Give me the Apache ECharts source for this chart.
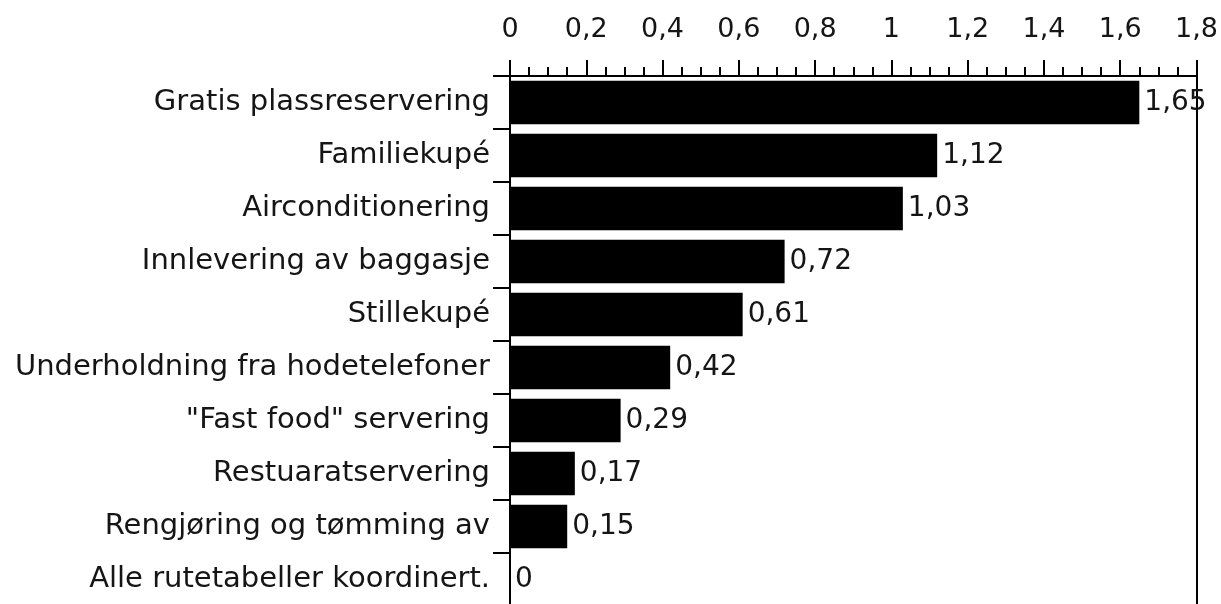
<!DOCTYPE html>
<html>
<head>
<meta charset="utf-8">
<script src="https://cdn.jsdelivr.net/npm/echarts@6/dist/echarts.min.js"></script>
<style>
  html, body { margin: 0; padding: 0; background: #fff; overflow: hidden; }
  /* taller than the window so the plot frame runs past the lower edge */
  #chart { width: 1221px; height: 614px; }
</style>
</head>
<body>
<div id="chart"></div>
<script>
// Rated value of each train service feature
const categories = [
  'Gratis plassreservering',
  'Familiekupé',
  'Airconditionering',
  'Innlevering av baggasje',
  'Stillekupé',
  'Underholdning fra hodetelefoner',
  '"Fast food" servering',
  'Restuaratservering',
  'Rengjøring og tømming av',
  'Alle rutetabeller koordinert.'
];
const values = [1.65, 1.12, 1.03, 0.72, 0.61, 0.42, 0.29, 0.17, 0.15, 0];
const axisMin = 0;
const axisMax = 1.8;
const axisStep = 0.2;

const FONT = 'DejaVu Sans';
const INK = '#151515';
const comma = v => String(+v.toFixed(2)).replace('.', ',');

const chart = echarts.init(document.getElementById('chart'), null, { renderer: 'canvas' });
chart.setOption({
  animation: false,
  backgroundColor: '#ffffff',
  grid: { left: 510, width: 687, top: 76, height: 530, containLabel: false },
  xAxis: {
    type: 'value',
    position: 'top',
    min: axisMin,
    max: axisMax,
    interval: axisStep,
    axisLine: { show: true, onZero: false, lineStyle: { color: '#000', width: 2 } },
    axisTick: { show: true, inside: false, length: 16, lineStyle: { color: '#000', width: 2 } },
    minorTick: { show: true, splitNumber: 4, length: 9, lineStyle: { color: '#000', width: 2 } },
    splitLine: { show: false },
    axisLabel: {
      margin: 33,
      fontFamily: FONT,
      fontSize: 27,
      color: INK,
      formatter: v => comma(v)
    }
  },
  yAxis: [
    {
      type: 'category',
      data: categories,
      inverse: true,
      axisLine: { show: true, lineStyle: { color: '#000', width: 2 } },
      axisTick: { show: true, inside: false, length: 17, alignWithLabel: false, lineStyle: { color: '#000', width: 2 } },
      axisLabel: { margin: 20, fontFamily: FONT, fontSize: 29, color: INK }
    },
    {
      type: 'category',
      data: categories,
      inverse: true,
      position: 'right',
      axisLine: { show: true, lineStyle: { color: '#000', width: 2 } },
      axisTick: { show: false },
      axisLabel: { show: false }
    }
  ],
  series: [{
    type: 'bar',
    data: values,
    yAxisIndex: 0,
    barCategoryGap: '18%',
    itemStyle: { color: '#000' },
    label: {
      show: true,
      position: 'right',
      distance: 5,
      fontFamily: FONT,
      fontSize: 28,
      color: INK,
      formatter: p => comma(p.value)
    }
  }]
});
</script>
</body>
</html>
